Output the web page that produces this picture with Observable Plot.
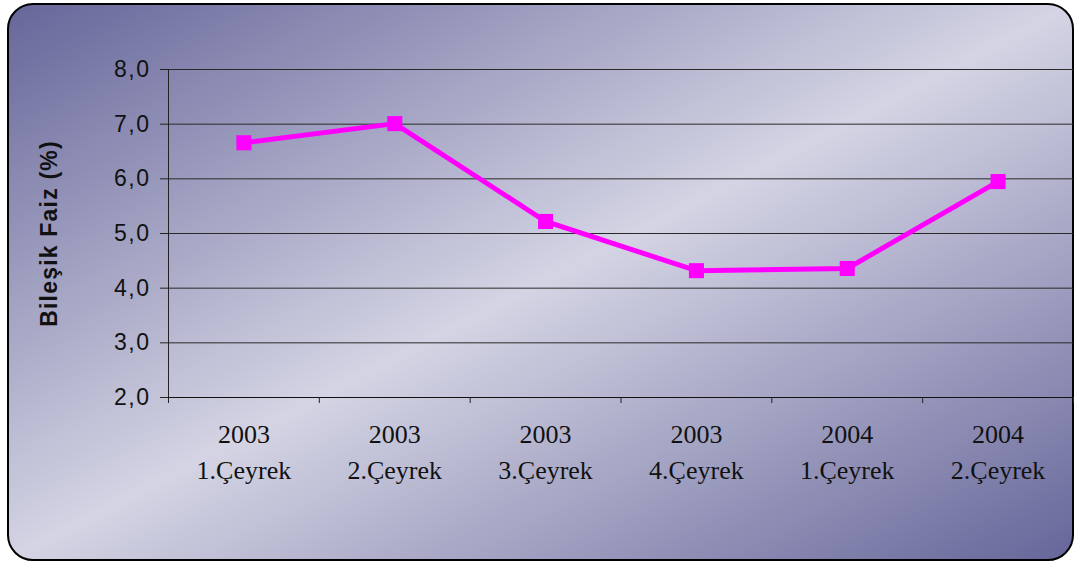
<!DOCTYPE html>
<html><head><meta charset="utf-8">
<script src="https://cdn.jsdelivr.net/npm/d3@7"></script>
<script src="https://cdn.jsdelivr.net/npm/@observablehq/plot@0.6"></script>
<style>
body{margin:0;width:1074px;height:562px;position:relative;overflow:hidden;background:#fff}
#frame{position:absolute;left:7px;top:3px;width:1063px;height:554px;border:2px solid #000;border-radius:26px;background:linear-gradient(to bottom right,#66669a 0%,#d4d4e4 50%,#66669a 100%)}
#chart{position:absolute;left:0;top:0}
#chart g[aria-label="y-axis tick label"] text{font-size:23px;letter-spacing:1.5px}
#chart g.ytitle text{letter-spacing:1.2px}
</style></head><body><div id="frame"></div><div id="chart"></div>
<script>
const years = ["2003","2003","2003","2003","2004","2004"];
const quarters = ["1.Çeyrek","2.Çeyrek","3.Çeyrek","4.Çeyrek","1.Çeyrek","2.Çeyrek"];
const values = [6.66,7.01,5.22,4.32,4.36,5.95];
const yTicks = [2,3,4,5,6,7,8];
const yTitle = "Bileşik Faiz (%)";

const data = values.map((v,i)=>({i: i+0.5, v, label: years[i]+"\n"+quarters[i]}));
const boundaries = d3.range(0, values.length+1);

const chart = Plot.plot({
  width:1074, height:562, marginLeft:168, marginRight:1, marginTop:69, marginBottom:165,
  style:{background:"transparent", overflow:"visible", fontFamily:"Liberation Sans", fontSize:"22px", color:"#222"},
  x:{domain:[0,6]}, y:{domain:[2,8]},
  marks:[
    Plot.ruleY(yTicks.slice(1), {stroke:"#2a2a2a", strokeWidth:1}),
    Plot.ruleX([0], {stroke:"#222"}),
    Plot.ruleY([2], {stroke:"#111"}),
    Plot.axisY({ticks:yTicks, tickSize:8, tickPadding:10, fontSize:23, tickFormat:d=>d.toFixed(1).replace(".",","), fill:"#111", label:null}),
    Plot.axisX({ticks:boundaries, tickSize:6, tickFormat:()=>"", label:null}),
    Plot.text(data, {x:"i", text:"label", frameAnchor:"bottom", lineAnchor:"top", dy:21, lineHeight:1.35, fontSize:26, fontFamily:"Liberation Serif", fill:"#111"}),
    Plot.line(data, {x:"i", y:"v", stroke:"#ff00ff", strokeWidth:5}),
    Plot.dot(data, {x:"i", y:"v", symbol:"square", r:8.5, fill:"#ff00ff", stroke:"none"}),
    Plot.text([yTitle], {text:d=>d, frameAnchor:"left", textAnchor:"middle", lineAnchor:"middle", dx:-119, rotate:-90, fontSize:23, fontWeight:"bold", fontFamily:"Liberation Sans", fill:"#111", className:"ytitle"})
  ]
});
document.getElementById("chart").appendChild(chart);
</script></body></html>
